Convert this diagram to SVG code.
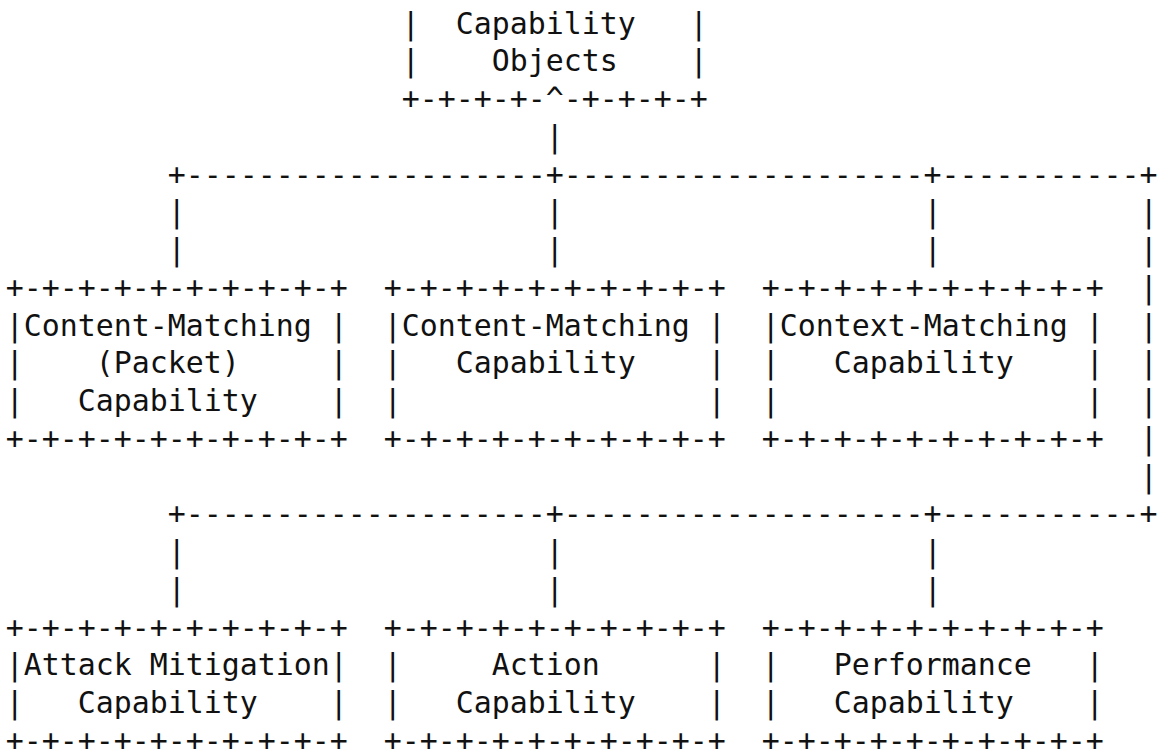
<svg xmlns="http://www.w3.org/2000/svg" width="1162" height="751" viewBox="0 0 1162 751" xml:space="preserve">
<style>
text { font-family: "DejaVu Sans Mono", "Liberation Mono", monospace; font-size: 29.9px; fill: #111; white-space: pre; }
</style>
<rect x="0" y="0" width="1162" height="751" fill="#ffffff"/>
<g id="capability-objects">
<text x="401.8" y="33.5">|  Capability   |</text>
<text x="401.8" y="71.25">|    Objects    |</text>
<text x="401.8" y="109">+-+-+-+-^-+-+-+-+</text>
</g>
<g id="connectors">
<text x="545.8" y="146.75">|</text>
<text x="167.8" y="184.5">+--------------------+--------------------+-----------+</text>
<text x="167.8" y="222.25">|</text><text x="545.8" y="222.25">|</text><text x="923.8" y="222.25">|</text><text x="1139.8" y="222.25">|</text>
<text x="167.8" y="260">|</text><text x="545.8" y="260">|</text><text x="923.8" y="260">|</text><text x="1139.8" y="260">|</text>
<text x="1139.8" y="297.75">|</text>
<text x="1139.8" y="335.5">|</text>
<text x="1139.8" y="373.25">|</text>
<text x="1139.8" y="411">|</text>
<text x="1139.8" y="448.75">|</text>
<text x="1139.8" y="486.5">|</text>
<text x="167.8" y="524.25">+--------------------+--------------------+-----------+</text>
<text x="167.8" y="562">|</text><text x="545.8" y="562">|</text><text x="923.8" y="562">|</text>
<text x="167.8" y="599.75">|</text><text x="545.8" y="599.75">|</text><text x="923.8" y="599.75">|</text>
</g>
<g id="content-matching-packet">
<text x="5.8" y="297.75">+-+-+-+-+-+-+-+-+-+</text>
<text x="5.8" y="335.5">|Content-Matching |</text>
<text x="5.8" y="373.25">|    (Packet)     |</text>
<text x="5.8" y="411">|   Capability    |</text>
<text x="5.8" y="448.75">+-+-+-+-+-+-+-+-+-+</text>
</g>
<g id="content-matching">
<text x="383.8" y="297.75">+-+-+-+-+-+-+-+-+-+</text>
<text x="383.8" y="335.5">|Content-Matching |</text>
<text x="383.8" y="373.25">|   Capability    |</text>
<text x="383.8" y="411">|                 |</text>
<text x="383.8" y="448.75">+-+-+-+-+-+-+-+-+-+</text>
</g>
<g id="context-matching">
<text x="761.8" y="297.75">+-+-+-+-+-+-+-+-+-+</text>
<text x="761.8" y="335.5">|Context-Matching |</text>
<text x="761.8" y="373.25">|   Capability    |</text>
<text x="761.8" y="411">|                 |</text>
<text x="761.8" y="448.75">+-+-+-+-+-+-+-+-+-+</text>
</g>
<g id="attack-mitigation">
<text x="5.8" y="637.5">+-+-+-+-+-+-+-+-+-+</text>
<text x="5.8" y="675.25">|Attack Mitigation|</text>
<text x="5.8" y="713">|   Capability    |</text>
<text x="5.8" y="750.75">+-+-+-+-+-+-+-+-+-+</text>
</g>
<g id="action">
<text x="383.8" y="637.5">+-+-+-+-+-+-+-+-+-+</text>
<text x="383.8" y="675.25">|     Action      |</text>
<text x="383.8" y="713">|   Capability    |</text>
<text x="383.8" y="750.75">+-+-+-+-+-+-+-+-+-+</text>
</g>
<g id="performance">
<text x="761.8" y="637.5">+-+-+-+-+-+-+-+-+-+</text>
<text x="761.8" y="675.25">|   Performance   |</text>
<text x="761.8" y="713">|   Capability    |</text>
<text x="761.8" y="750.75">+-+-+-+-+-+-+-+-+-+</text>
</g>
</svg>
